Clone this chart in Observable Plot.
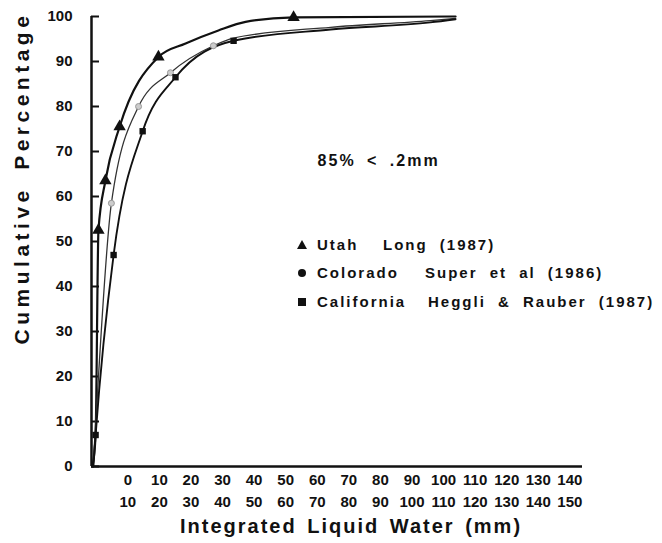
<!DOCTYPE html>
<html>
<head>
<meta charset="utf-8">
<script src="https://cdn.jsdelivr.net/npm/d3@7"></script>
<script src="https://cdn.jsdelivr.net/npm/@observablehq/plot@0.6"></script>
<style>
  html, body { margin: 0; padding: 0; background: #fff; }
  #wrap { position: relative; width: 662px; height: 543px; font-family: "Liberation Sans", Arial, sans-serif; color: #111; }
  #wrap svg { position: absolute; left: 0; top: 0; }
  .ov { position: absolute; font-weight: bold; white-space: nowrap; }
  #ytitle { left: -178px; top: 166px; width: 400px; height: 24px; line-height: 24px; text-align: center;
            transform: rotate(-90deg); font-size: 21px; letter-spacing: 4.5px; word-spacing: 6px; }
  #xtitle { left: 180px; top: 515px; font-size: 20px; line-height: 23px; letter-spacing: 2px; word-spacing: 3px; }
  .leg { font-size: 15px; letter-spacing: 2px; word-spacing: 6px; line-height: 18px; }
  .sym { position: absolute; }
</style>
</head>
<body>
<div id="wrap">
  <div id="ytitle" class="ov">Cumulative Percentage</div>
  <div id="xtitle" class="ov">Integrated Liquid Water (mm)</div>
</div>
<script>
// ---- data ----
const seriesNames = ["Utah", "Colorado", "California"];
const seriesRefs = ["Long (1987)", "Super et al (1986)", "Heggli & Rauber (1987)"];

const utahX = [-11.2, -10.2, -9.3, -7.1, -2.6, 9.7, 18.3, 28.7, 37.3, 52.5, 103.8];
const utahY = [0, 7, 52.5, 63.5, 75.5, 91, 94, 96.9, 98.8, 99.8, 100];
const utahMark = [0, 0, 1, 1, 1, 1, 0, 0, 0, 1, 0];

const coloX = [-11.0, -10.4, -5.2, 3.4, 13.5, 27.1, 33.5, 64.2, 95.8, 103.8];
const coloY = [0, 7, 58.5, 80, 87.5, 93.5, 95.2, 97.6, 99.1, 99.6];
const coloMark = [0, 0, 1, 1, 1, 1, 0, 0, 0, 0];

const caliX = [-10.9, -10.2, -4.5, 4.7, 15.1, 33.5, 64.2, 95.8, 103.8];
const caliY = [0, 7, 47, 74.5, 86.5, 94.6, 97.1, 98.7, 99.4];
const caliMark = [0, 1, 1, 1, 1, 1, 0, 0, 0];

const yTicks = [0, 10, 20, 30, 40, 50, 60, 70, 80, 90, 100];
const xTicks = [0, 10, 20, 30, 40, 50, 60, 70, 80, 90, 100, 110, 120, 130, 140];
const xTickTop = ["0","10","20","30","40","50","60","70","80","90","100","110","120","130","140"];
const xTickBottom = ["10","20","30","40","50","60","70","80","90","100","110","120","130","140","150"];
const xDomain = [-11.5, 144];
const yDomain = [0, 100];

const noteText = ["85% < .2mm"];
const noteX = [60.1];
const noteY = [68];

// ---- build rows ----
function rows(name, xs, ys, ms) {
  return xs.map((x, i) => ({series: name, x, y: ys[i], mark: ms[i]}));
}
const utah = rows("Utah", utahX, utahY, utahMark);
const colo = rows("Colorado", coloX, coloY, coloMark);
const cali = rows("California", caliX, caliY, caliMark);
const notes = noteText.map((t, i) => ({text: t, x: noteX[i], y: noteY[i]}));

const W = 662, H = 543, ML = 91, MR = 80, MT = 16, MB = 77;
const plotW = W - ML - MR;

const chart = Plot.plot({
  width: W, height: H,
  marginLeft: ML, marginRight: MR, marginTop: MT, marginBottom: MB,
  style: {fontFamily: "'Liberation Sans', Arial, sans-serif", color: "#111", background: "white"},
  x: {domain: xDomain},
  y: {domain: yDomain},
  marks: [
    Plot.axisY({ticks: yTicks, tickSize: 0, tickPadding: 19, fontSize: 15, fontWeight: "bold", label: null, tickFormat: d => String(d)}),
    Plot.axisX({ticks: xTicks, tickSize: 0, tickPadding: 8, fontSize: 15, fontWeight: "bold", label: null,
                tickFormat: d => xTickTop[xTicks.indexOf(d)]}),
    Plot.axisX({ticks: xTicks, tickSize: 0, tickPadding: 30, fontSize: 15, fontWeight: "bold", label: null,
                tickFormat: d => xTickBottom[xTicks.indexOf(d)]}),
    Plot.tickY(yTicks, {y: d => d, insetRight: plotW - 8, strokeWidth: 2, stroke: "#111"}),
    Plot.line(utah, {x: "x", y: "y", curve: "monotone-x", stroke: "#111", strokeWidth: 2.2}),
    Plot.line(colo, {x: "x", y: "y", curve: "monotone-x", stroke: "#333", strokeWidth: 1.3}),
    Plot.line(cali, {x: "x", y: "y", curve: "monotone-x", stroke: "#111", strokeWidth: 1.9}),
    Plot.ruleX([xDomain[0]], {stroke: "#111", strokeWidth: 2.5}),
    Plot.ruleY([yDomain[0]], {stroke: "#111", strokeWidth: 2.5}),
    Plot.dot(utah.filter(d => d.mark), {x: "x", y: "y", symbol: "triangle", r: 4.6, fill: "#111", stroke: "none"}),
    Plot.dot(colo.filter(d => d.mark), {x: "x", y: "y", symbol: "circle", r: 3, fill: "#ccc", stroke: "#999", strokeWidth: 1}),
    Plot.dot(cali.filter(d => d.mark), {x: "x", y: "y", symbol: "square", r: 3.6, fill: "#111", stroke: "none"}),
    Plot.text(notes, {x: "x", y: "y", text: "text", textAnchor: "start", fontSize: 16, fontWeight: "bold"})
  ]
});
// typographic spacing for the annotation
d3.select(chart).selectAll("g[aria-label='text'] text")
  .style("letter-spacing", "2px").style("word-spacing", "5px");

const wrap = document.getElementById("wrap");
wrap.insertBefore(chart, wrap.firstChild);

// ---- legend (HTML overlay) ----
const legTop = [236, 264, 293];
const legRefLeft = [383, 425, 428];
const symbols = ["triangle", "circle", "square"];
seriesNames.forEach((name, i) => {
  const sym = document.createElementNS("http://www.w3.org/2000/svg", "svg");
  sym.setAttribute("width", 12); sym.setAttribute("height", 12);
  sym.setAttribute("class", "sym");
  sym.style.left = "296px"; sym.style.top = (legTop[i] + 3) + "px";
  let shape;
  if (symbols[i] === "triangle") {
    shape = document.createElementNS("http://www.w3.org/2000/svg", "path");
    shape.setAttribute("d", "M6,1 L11,10 L1,10 Z");
  } else if (symbols[i] === "circle") {
    shape = document.createElementNS("http://www.w3.org/2000/svg", "circle");
    shape.setAttribute("cx", 6); shape.setAttribute("cy", 6); shape.setAttribute("r", 4);
  } else {
    shape = document.createElementNS("http://www.w3.org/2000/svg", "rect");
    shape.setAttribute("x", 2); shape.setAttribute("y", 2); shape.setAttribute("width", 8); shape.setAttribute("height", 8);
  }
  shape.setAttribute("fill", "#111");
  sym.appendChild(shape);
  wrap.appendChild(sym);

  const a = document.createElement("div");
  a.className = "ov leg"; a.textContent = name;
  a.style.left = "317px"; a.style.top = legTop[i] + "px";
  wrap.appendChild(a);
  const b = document.createElement("div");
  b.className = "ov leg"; b.textContent = seriesRefs[i];
  b.style.left = legRefLeft[i] + "px"; b.style.top = legTop[i] + "px";
  wrap.appendChild(b);
});
</script>
</body>
</html>
